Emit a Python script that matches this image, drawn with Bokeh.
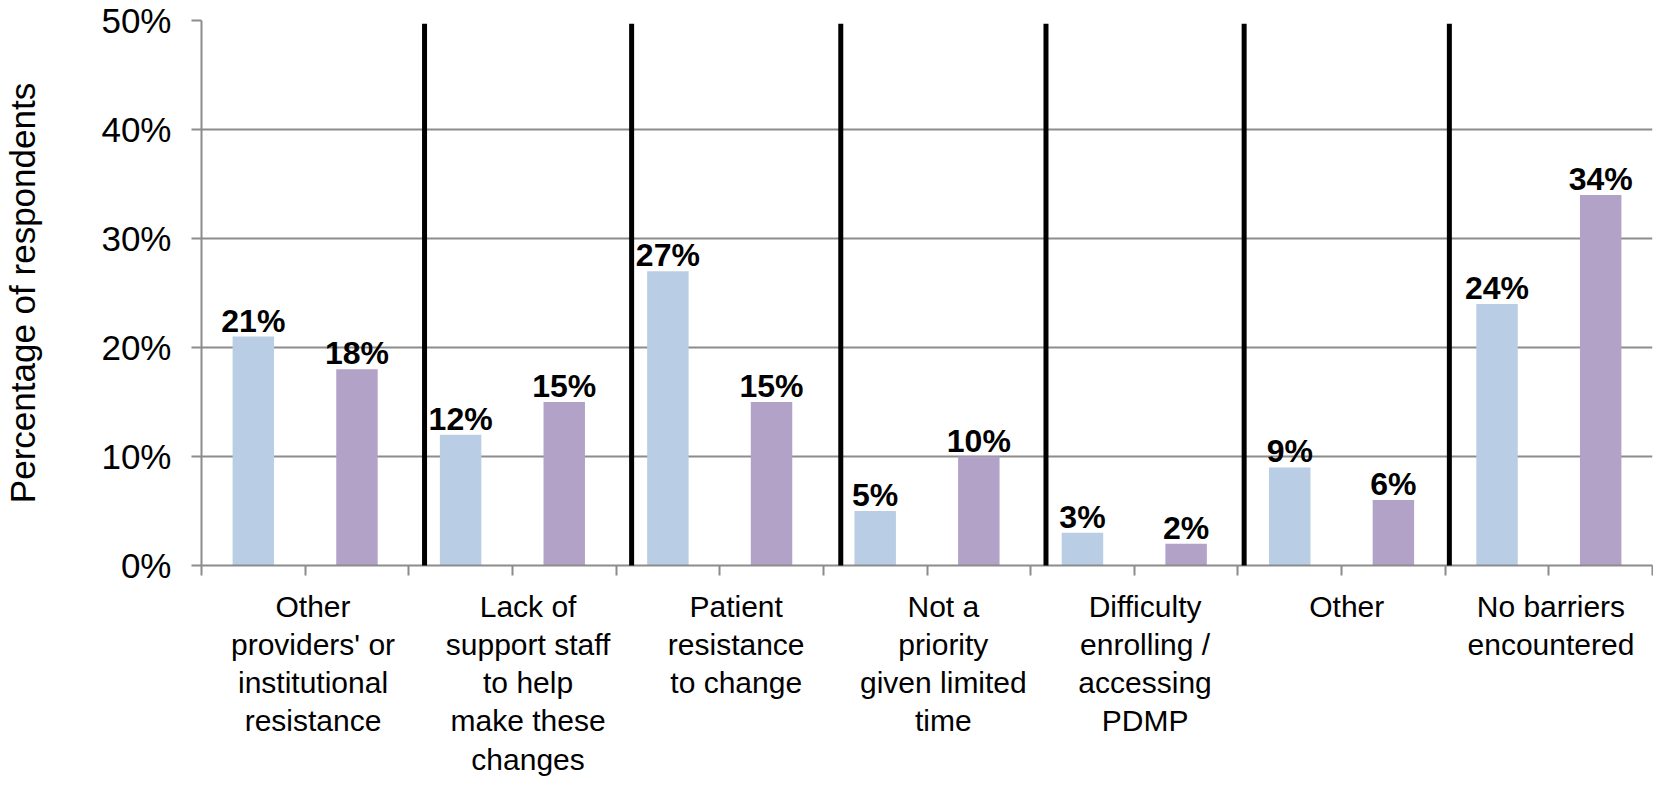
from bokeh.plotting import figure
from bokeh.models import (Range1d, FixedTicker, NumeralTickFormatter, ColumnDataSource,
                          LabelSet, Arrow, LinearAxis)
from bokeh.embed import file_html
from bokeh.resources import INLINE
from bokeh.core.properties import value

# ---- data ----
categories = [
    "Other\nproviders' or\ninstitutional\nresistance",
    "Lack of\nsupport staff\nto help\nmake these\nchanges",
    "Patient\nresistance\nto change",
    "Not a\npriority\ngiven limited\ntime",
    "Difficulty\nenrolling /\naccessing\nPDMP",
    "Other",
    "No barriers\nencountered",
]
series_a = [0.21, 0.12, 0.27, 0.05, 0.03, 0.09, 0.24]   # light blue
series_b = [0.18, 0.15, 0.15, 0.10, 0.02, 0.06, 0.34]   # purple
y_ticks = [0.0, 0.1, 0.2, 0.3, 0.4, 0.5]

# ---- style / layout ----
FONT = "Liberation Sans"
COL_A = "#B9CDE5"
COL_B = "#B3A2C7"
GRID = "#8C8C8C"
sep_pos = [2.152, 4.150, 6.168, 8.148, 10.060, 12.040]  # separator lines (slot units)

n = len(categories)
nslots = 2 * n

p = figure(width=1653, height=784, output_backend="svg", toolbar_location=None,
           x_range=Range1d(0, nslots), y_range=Range1d(0, 0.5),
           min_border_left=196, min_border_right=1, min_border_top=20, min_border_bottom=219)
p.outline_line_color = None
p.background_fill_color = "white"
p.border_fill_color = "white"

xa = [2 * i + 0.5 for i in range(n)]
xb = [2 * i + 1.5 for i in range(n)]
src_a = ColumnDataSource(dict(x=xa, top=series_a, lab=[f"{round(v*100)}%" for v in series_a]))
src_b = ColumnDataSource(dict(x=xb, top=series_b, lab=[f"{round(v*100)}%" for v in series_b]))
bw = 0.40
p.vbar(x="x", top="top", width=bw, bottom=0, source=src_a, fill_color=COL_A, line_color=None)
p.vbar(x="x", top="top", width=bw, bottom=0, source=src_b, fill_color=COL_B, line_color=None)

for src in (src_a, src_b):
    p.add_layout(LabelSet(x="x", y="top", text="lab", source=src, text_align="center",
                          text_baseline="alphabetic", y_offset=5,
                          text_font=value(FONT), text_font_style="bold",
                          text_font_size="32px", text_color="black"))

# y axis
p.yaxis.ticker = FixedTicker(ticks=y_ticks)
p.yaxis.formatter = NumeralTickFormatter(format="0%")
p.yaxis.axis_line_color = GRID
p.yaxis.axis_line_width = 2
p.yaxis.major_tick_line_color = GRID
p.yaxis.major_tick_line_width = 2
p.yaxis.major_tick_out = 10
p.yaxis.major_tick_in = 0
p.yaxis.minor_tick_line_color = None
p.yaxis.major_label_text_font = FONT
p.yaxis.major_label_text_font_size = "35px"
p.yaxis.major_label_text_color = "black"
p.yaxis.major_label_standoff = 20
p.yaxis.axis_label = "Percentage of respondents"
p.yaxis.axis_label_text_font = FONT
p.yaxis.axis_label_text_font_size = "35px"
p.yaxis.axis_label_text_font_style = "normal"
p.yaxis.axis_label_text_color = "black"
p.yaxis.axis_label_standoff = 56

# x axis: tick marks at slot boundaries, no labels
slot_ticks = list(range(nslots + 1))
p.xaxis.ticker = FixedTicker(ticks=slot_ticks)
p.xaxis.major_label_overrides = {t: "" for t in slot_ticks}
p.xaxis.major_label_text_font_size = "1px"
p.xaxis.major_label_standoff = 0
p.xaxis.axis_line_color = GRID
p.xaxis.axis_line_width = 2
p.xaxis.major_tick_line_color = GRID
p.xaxis.major_tick_line_width = 2
p.xaxis.major_tick_out = 10
p.xaxis.major_tick_in = 0
p.xaxis.minor_tick_line_color = None

# category label axis, labels centred between separators
bounds = [0] + sep_pos + [nslots]
centers = [round((bounds[i] + bounds[i + 1]) / 2, 4) for i in range(n)]
cat_axis = LinearAxis(ticker=FixedTicker(ticks=centers),
                      major_label_overrides={c: t for c, t in zip(centers, categories)},
                      axis_line_color=None, major_tick_line_color=None,
                      minor_tick_line_color=None, major_tick_out=0, major_tick_in=0,
                      major_label_standoff=14,
                      major_label_text_font=FONT, major_label_text_font_size="30px",
                      major_label_text_line_height=1.16, major_label_text_color="black")
p.add_layout(cat_axis, "below")

p.xgrid.grid_line_color = None
p.ygrid.grid_line_color = GRID
p.ygrid.grid_line_width = 2

# separators
for s in sep_pos:
    p.add_layout(Arrow(x_start=s, y_start=0.497, x_end=s, y_end=-0.197,
                       start=None, end=None, line_color="black", line_width=5))

open("out.html", "w").write(file_html(p, INLINE))
